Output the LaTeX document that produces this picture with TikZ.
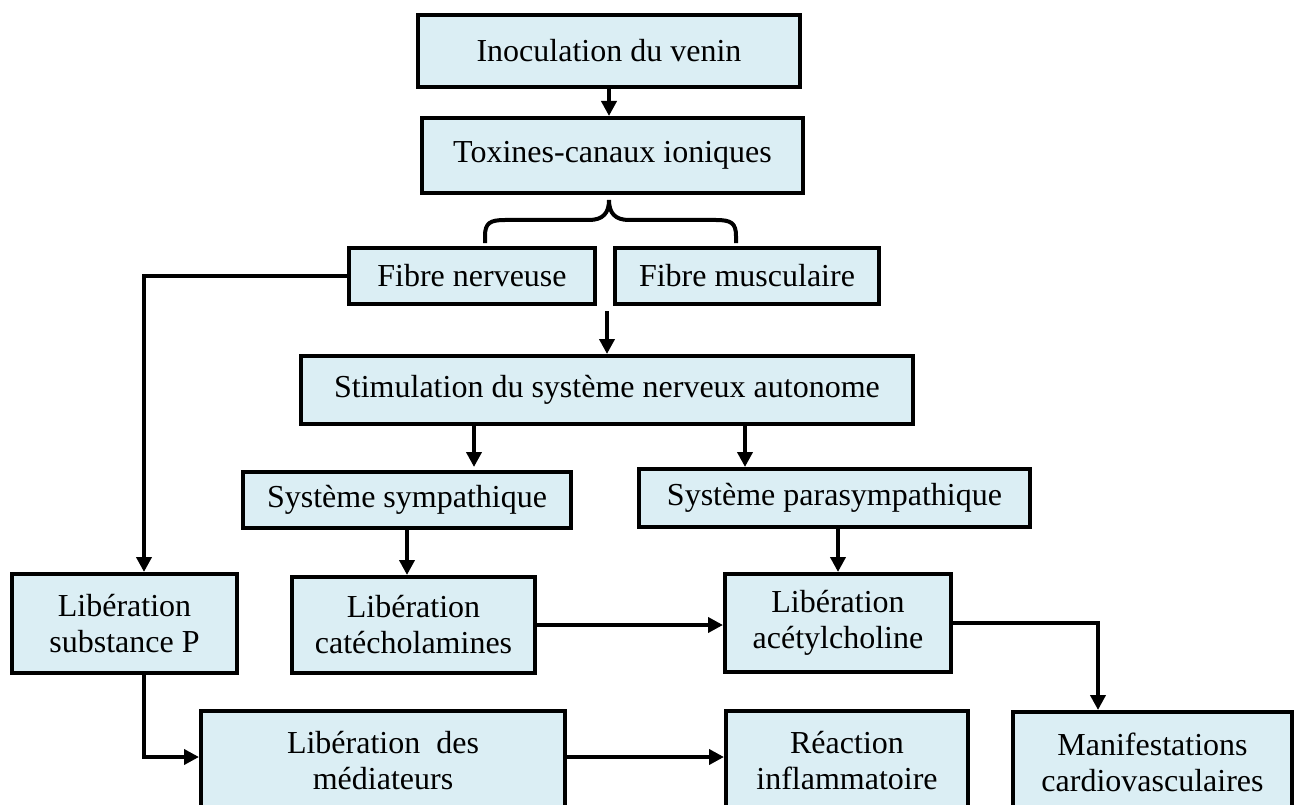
\documentclass[tikz,border=0pt]{standalone}
\usepackage{fontspec}
\setmainfont{Liberation Serif}
\usetikzlibrary{arrows.meta}
\definecolor{boxblue}{RGB}{219,238,244}
\tikzset{
  box/.style={draw=black, line width=4pt, fill=boxblue, align=center, inner sep=0pt,
    font=\fontsize{32}{36}\selectfont, rectangle},
  arr/.style={line width=4pt, -{Triangle[length=15pt,width=15pt]}},
  brc/.style={line width=4pt}
}
\begin{document}
\begin{tikzpicture}[x=1pt,y=-1pt]
\useasboundingbox (0,0) rectangle (1298,805);
\clip (0,0) rectangle (1298,805);
\node[box, minimum width=382, minimum height=72] (b1) at (609,51) {Inoculation du venin};
\node[box, minimum width=381, minimum height=75] (b2) at (612.5,155.5) {Toxines-canaux ioniques};
\node[box, minimum width=246, minimum height=56] (fn) at (472,276) {Fibre nerveuse};
\node[box, minimum width=264, minimum height=56] (fm) at (747,276) {Fibre musculaire};
\node[box, minimum width=612, minimum height=68] (st) at (607,390) {Stimulation du système nerveux autonome};
\node[box, minimum width=328, minimum height=56] (ss) at (407,500) {Système sympathique};
\node[box, minimum width=391, minimum height=58] (sp) at (834.5,498) {Système parasympathique};
\node[box, minimum width=225, minimum height=99] (lsp) at (124.5,623.5) {Libération\\substance P};
\node[box, minimum width=243, minimum height=96] (lc) at (413.5,625) {Libération\\catécholamines};
\node[box, minimum width=226, minimum height=98] (la) at (838,623) {Libération\\acétylcholine};
\node[box, minimum width=364, minimum height=100] (lm) at (383,761) {Libération~~des\\médiateurs};
\node[box, minimum width=242, minimum height=100] (ri) at (847,761) {Réaction\\inflammatoire};
\node[box, minimum width=279, minimum height=100] (ma) at (1152.5,762) {Manifestations\\cardiovasculaires};
% brace
\draw[brc] (485,243) -- (485,236) .. controls (485,223) and (490,220) .. (505,220) -- (589,220)
  .. controls (603,220) and (609,213) .. (609,200) .. controls (609,213) and (615,220) .. (629,220)
  -- (716,220) .. controls (731,220) and (736,223) .. (736,236) -- (736,243);
% connectors
\coordinate (fs) at (607,311);
\draw[arr] (b1.south) -- (b1.south |- b2.north);
\draw[arr] (fs) -- (fs |- st.north);
\draw[arr] (fn.west) -| ([xshift=19.5pt]lsp.north);
\draw[arr] ([xshift=-133pt]st.south) -- ([xshift=-133pt]st.south |- sp.north);
\draw[arr] ([xshift=138pt]st.south) -- ([xshift=138pt]st.south |- sp.north);
\draw[arr] (ss.south) -- (ss.south |- lc.north);
\draw[arr] (la.north |- sp.south) -- (la.north);
\draw[arr] (lc.east) -- (lc.east -| la.west);
\draw[arr] (la.east) -| ([xshift=-54.5pt]ma.north);
\draw[arr] ([xshift=19pt]lsp.south) |- ([yshift=4pt]lm.west);
\draw[arr] ([yshift=4pt]lm.east) -- ([yshift=4pt]lm.east -| ri.west);
\end{tikzpicture}
\end{document}
